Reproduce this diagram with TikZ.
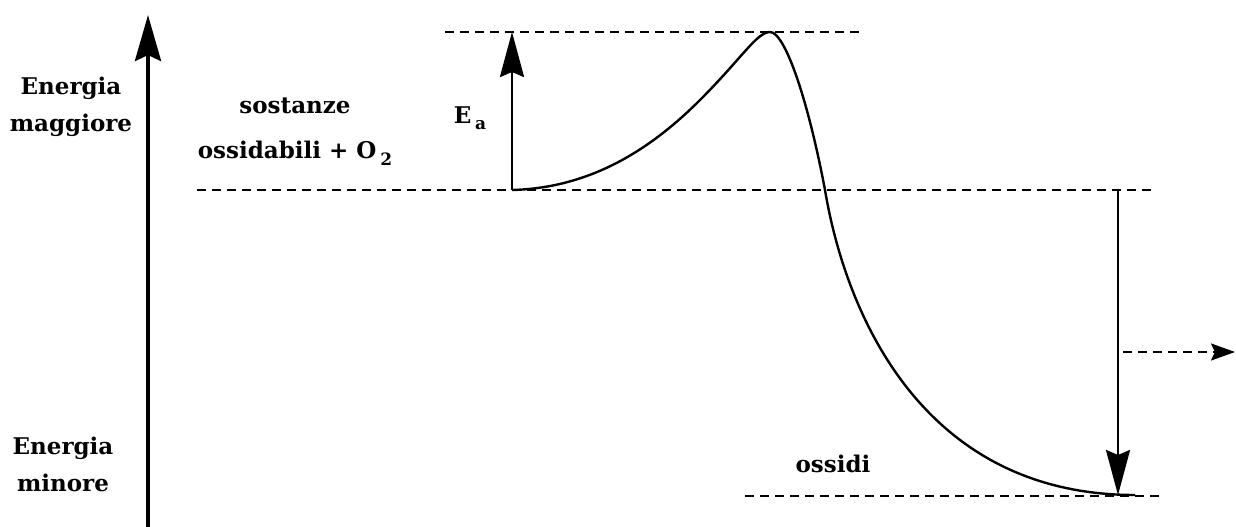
\documentclass[tikz,border=0pt]{standalone}
\usepackage{fontspec}
\setmainfont{DejaVu Serif}
\usetikzlibrary{arrows.meta,positioning}

\begin{document}
\begin{tikzpicture}[x=1pt,y=-1pt,
    level/.style={line width=1.9pt,dash pattern=on 9pt off 6pt},
    bigtip/.style={-{Stealth[length=45pt,width=24pt,inset=5pt]}},
    lbl/.style={font=\bfseries\fontsize{23}{37}\selectfont,align=center,inner sep=0pt}]
  \useasboundingbox (0,0) rectangle (1236,527);
  % points of the profile
  \coordinate (axisbot) at (148,527);
  \coordinate (axistop) at (148,15);
  \coordinate (react) at (512,190);
  \coordinate (peak) at (770,32);
  \coordinate (cross) at (825,190);
  \coordinate (prod) at (1135,495);
  % dashed levels
  \coordinate (tsL) at (445,32);
  \coordinate (tsR) at (860,32);
  \coordinate (reactL) at (197,190);
  \coordinate (reactR) at (1155,190);
  \coordinate (prodL) at (745,496);
  \coordinate (prodR) at (1163,496);
  \coordinate (dropTop) at (1118,190);
  \coordinate (dropBot) at (1118,495);
  \coordinate (heatL) at (1123,352);
  \coordinate (heatR) at (1235,352);

  \draw[level] (tsL) -- (tsR);
  \draw[level] (reactL) -- (reactR);
  \draw[level] (prodL) -- (prodR);

  \draw[line width=4pt,-{Stealth[length=46pt,width=26pt,inset=6pt]}] (axisbot) -- (axistop);
  \draw[bigtip,line width=2.8pt] (react) -- (react |- peak);
  \draw[bigtip,line width=2.4pt] (dropTop) -- (dropBot);
  \draw[line width=2.2pt,dash pattern=on 9pt off 6pt,-{Stealth[length=24pt,width=17pt,inset=4pt]}] (heatL) -- (heatR);

  \draw[line width=2.4pt] (react) .. controls (590,188) and (650,150) .. (700,100)
    .. controls (742,58) and (757,32) .. (peak)
    .. controls (785,32) and (808,100) .. (cross)
    .. controls (845,310) and (920,495) .. (prod);

  \node[lbl] (hiE) at (71,107) {Energia\\maggiore};
  \node[lbl] (loE) at (63,464) {Energia\\minore};
  \node[lbl,font=\bfseries\fontsize{23}{45}\selectfont] (reagenti) at (295,132)
    {sostanze\\ossidabili + O\,\raisebox{-7pt}{\fontsize{17}{17}\selectfont 2}};
  \node[lbl] (Ea) at (470,118) {E\,\raisebox{-6pt}{\fontsize{17}{17}\selectfont a}};
  \node[lbl] (ossidi) at (833,464) {ossidi};
\end{tikzpicture}
\end{document}
